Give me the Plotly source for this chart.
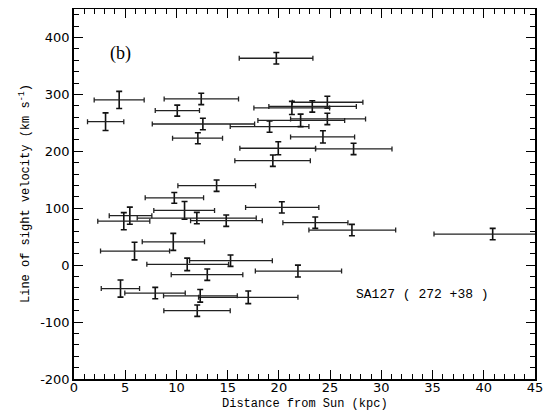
import plotly.graph_objects as go

# Distance from Sun (kpc), line-of-sight velocity (km/s) and error bar extents
distance = [19.75, 4.41, 3.08, 12.42, 10.08, 12.58, 12.09, 19.09, 24.73, 23.26,
            21.27, 24.73, 22.12, 24.30, 19.94, 27.29, 19.41, 13.92, 9.79, 10.79,
            5.45, 4.86, 11.99, 14.86, 20.29, 23.55, 27.13, 40.87, 9.69, 5.91,
            15.28, 11.05, 21.86, 13.01, 4.54, 7.93, 17.01, 12.32, 12.03]
dist_low = [16.13, 1.97, 1.32, 8.80, 7.93, 7.64, 9.62, 15.25, 21.31, 19.02,
            17.56, 21.14, 17.95, 21.14, 16.19, 23.58, 15.70, 10.14, 6.95, 7.79,
            3.44, 2.32, 6.17, 11.38, 16.75, 20.39, 22.93, 35.14, 6.66, 2.59,
            11.28, 7.11, 17.70, 9.49, 2.66, 4.96, 12.16, 8.74, 8.77]
dist_high = [23.32, 6.85, 4.86, 16.06, 12.25, 17.63, 14.50, 22.93, 28.20, 27.56,
             24.95, 28.46, 26.42, 27.39, 23.58, 31.04, 23.07, 17.72, 12.65, 13.72,
             7.60, 7.40, 17.79, 18.38, 23.90, 26.74, 31.40, 46.60, 12.74, 9.33,
             19.36, 15.09, 26.12, 16.48, 6.40, 10.86, 21.86, 15.94, 15.25]
velocity = [363.5, 290.3, 252.0, 292.0, 271.5, 248.0, 223.0, 243.4, 286.2, 278.8,
            276.2, 256.9, 254.3, 225.3, 205.4, 204.2, 183.5, 139.6, 118.2, 96.2,
            86.9, 77.3, 82.7, 78.1, 101.5, 74.6, 61.6, 54.6, 40.9, 24.8,
            7.9, 1.4, -10.4, -16.7, -41.1, -49.0, -56.5, -53.9, -79.9]
vel_err = [10, 15, 15.5, 10, 9.7, 10, 9.7, 10, 10.5, 10,
           11.5, 10, 11, 10.8, 11.5, 10, 10, 10, 9.5, 15.5,
           15, 15, 10, 10, 10, 10, 10, 10, 15, 15.5,
           10, 11, 10.5, 10, 15, 10, 11, 11, 10]

x_ticks = [0, 5, 10, 15, 20, 25, 30, 35, 40, 45]
y_ticks = [-200, -100, 0, 100, 200, 300, 400]

err_plus = [h - d for h, d in zip(dist_high, distance)]
err_minus = [d - l for d, l in zip(distance, dist_low)]

fig = go.Figure()
fig.add_trace(go.Scatter(
    x=distance, y=velocity, mode="markers",
    marker=dict(size=2, color="rgba(0,0,0,0)"),
    error_x=dict(type="data", symmetric=False, array=err_plus, arrayminus=err_minus,
                 color="#222", thickness=1.3, width=2.5),
    error_y=dict(type="data", array=vel_err, color="#111", thickness=1.6, width=3),
    showlegend=False, hoverinfo="skip",
))

font_main = "Liberation Mono"
axis_common = dict(
    showline=True, linecolor="black", linewidth=1.5, mirror="allticks",
    ticks="inside", tickcolor="black", tickwidth=1.2, ticklen=9,
    showgrid=False, zeroline=False, automargin=False,
    tickfont=dict(family="DejaVu Sans", size=13, color="black"),
)

fig.update_xaxes(range=[0, 45], tickvals=x_ticks, ticktext=[str(t) for t in x_ticks],
                 minor=dict(dtick=1, ticks="inside", ticklen=5, tickcolor="black", tickwidth=1),
                 ticklabelstandoff=-4, **axis_common)
fig.update_yaxes(range=[-200, 450], tickvals=y_ticks, ticktext=[str(t) for t in y_ticks],
                 minor=dict(dtick=20, ticks="inside", ticklen=5, tickcolor="black", tickwidth=1),
                 ticklabelstandoff=0, **axis_common)

fig.add_annotation(x=4.5, y=371, text="(b)", showarrow=False,
                   font=dict(family="Liberation Serif", size=18, color="black"))
fig.add_annotation(x=34.0, y=-52, text="SA127 ( 272 +38 )", showarrow=False,
                   font=dict(family=font_main, size=13, color="black"))

# axis titles as annotations for precise placement
fig.add_annotation(xref="paper", yref="paper", x=0.5, y=0, yshift=-25,
                   xanchor="center", yanchor="middle", showarrow=False,
                   text="Distance from Sun (kpc)",
                   font=dict(family=font_main, size=12, color="black"))
fig.add_annotation(xref="paper", yref="paper", x=0, y=0.5, xshift=-49,
                   xanchor="center", yanchor="middle", showarrow=False, textangle=-90,
                   text="Line of sight velocity (km s<sup>-1</sup>)",
                   font=dict(family=font_main, size=12, color="black"))

fig.update_layout(
    width=560, height=414,
    margin=dict(l=66, r=33, t=1, b=43, autoexpand=False),
    paper_bgcolor="white", plot_bgcolor="white",
)
fig.write_html("out.html")
